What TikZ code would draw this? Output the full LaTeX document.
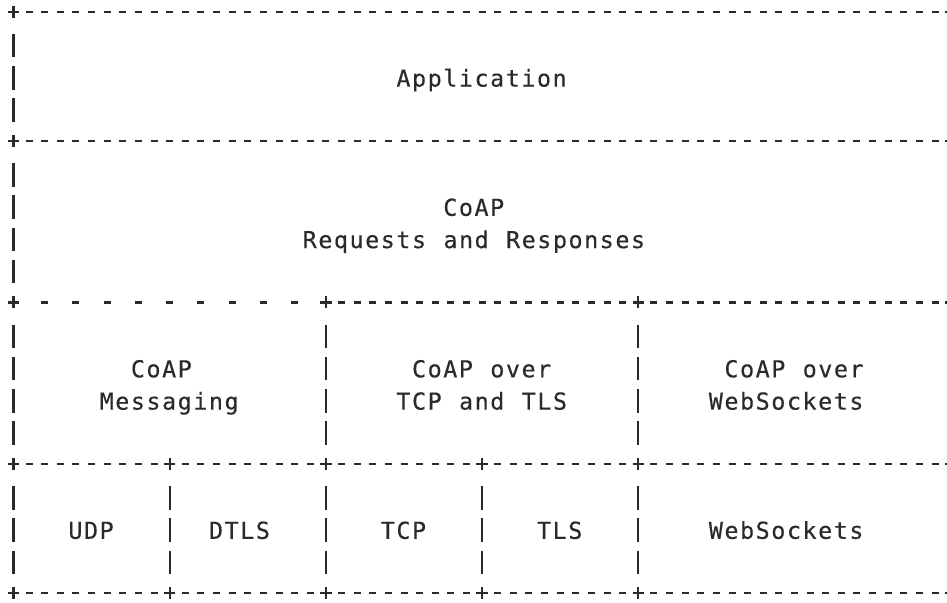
\documentclass[tikz,border=0pt]{standalone}
\usepackage{fontspec}
\newfontfamily\asciifont[LetterSpace=6.73,WordSpace=1.1118,FakeBold=0.3]{DejaVu Sans Mono}
\definecolor{ink}{HTML}{2A2A2A}
\tikzset{
  glyph/.style={draw=ink, line width=1.65pt, line cap=butt},
  hdash/.style={glyph, dash pattern=on 5.25pt off 6.465pt, shorten <=9.09pt, shorten >=9.09pt},
  sparse/.style={glyph, dash pattern=on 5.25pt off 18.18pt, shorten <=20.805pt, shorten >=20.805pt},
  vbar/.style={glyph, dash pattern=on 17.625pt off 6.6pt, shorten <=16.61pt, shorten >=14.21pt},
  lbl/.style={font=\asciifont\fontsize{17.5}{21}\selectfont, text=ink, inner sep=0pt, anchor=base west}
}
\newcommand\lbl[4]{\node[lbl] (#1) at ({5.69+15.62*#3},{11.7+32.3*#2+10.3}) {#4};}
\begin{document}
\begin{tikzpicture}[x=0.75pt,y=-0.75pt]
\fill[white] (0,0) rectangle (947,603);
\useasboundingbox (0,0) rectangle (947,603);
% corner / junction points of the ASCII frame
\foreach \r/\c in {0/0,0/60,4/0,4/60,9/0,9/20,9/40,9/60,14/0,14/10,14/20,14/30,14/40,14/60,18/0,18/10,18/20,18/30,18/40,18/60}
  \coordinate (p\r-\c) at ({13.5+15.62*\c},{11.7+32.3*\r});
% horizontal rules
\draw[hdash] (p0-0) -- (p0-60);
\draw[hdash] (p4-0) -- (p4-60);
\draw[sparse] (p9-0) -- (p9-20);
\draw[hdash] (p9-20) -- (p9-60);
\draw[hdash] (p14-0) -- (p14-60);
\draw[hdash] (p18-0) -- (p18-60);
% vertical rules
\draw[vbar] (p0-0) -- (p4-0);
\draw[vbar] (p4-0) -- (p9-0);
\draw[vbar] (p9-0) -- (p14-0);
\draw[vbar] (p14-0) -- (p18-0);
\draw[vbar] (p0-60) -- (p4-60);
\draw[vbar] (p4-60) -- (p9-60);
\draw[vbar] (p9-60) -- (p14-60);
\draw[vbar] (p14-60) -- (p18-60);
\draw[vbar] (p9-20) -- (p14-20);
\draw[vbar] (p9-40) -- (p14-40);
\draw[vbar] (p14-10) -- (p18-10);
\draw[vbar] (p14-20) -- (p18-20);
\draw[vbar] (p14-30) -- (p18-30);
\draw[vbar] (p14-40) -- (p18-40);
% plus signs
\foreach \r/\c in {0/0,0/60,4/0,4/60,9/0,9/20,9/40,9/60,14/0,14/10,14/20,14/30,14/40,14/60,18/0,18/10,18/20,18/30,18/40,18/60}
  \draw[glyph] (p\r-\c) ++(-5.75,0) -- ++(11.5,0) (p\r-\c) ++(0,-6) -- ++(0,12);
% labels
\lbl{app}{2}{25}{Application}
\lbl{coap}{6}{28}{CoAP}
\lbl{reqresp}{7}{19}{Requests and Responses}
\lbl{msgA}{11}{8}{CoAP}
\lbl{msgB}{12}{6}{Messaging}
\lbl{tcpA}{11}{26}{CoAP over}
\lbl{tcpB}{12}{25}{TCP and TLS}
\lbl{wsA}{11}{46}{CoAP over}
\lbl{wsB}{12}{45}{WebSockets}
\lbl{udp}{16}{4}{UDP}
\lbl{dtls}{16}{13}{DTLS}
\lbl{tcp}{16}{24}{TCP}
\lbl{tls}{16}{34}{TLS}
\lbl{websockets}{16}{45}{WebSockets}
\end{tikzpicture}
\end{document}
